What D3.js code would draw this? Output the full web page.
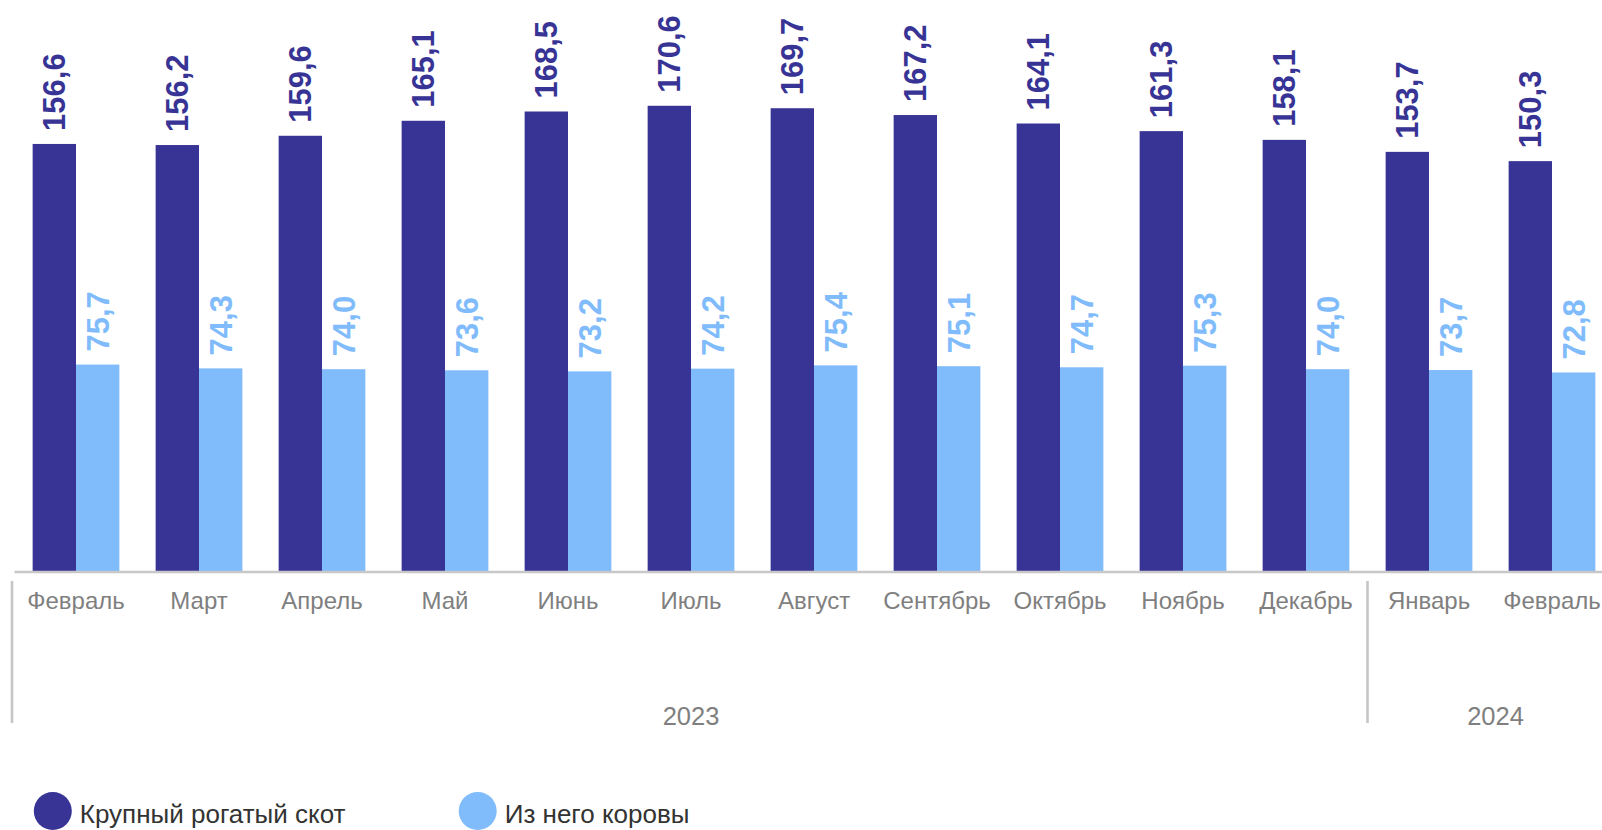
<!DOCTYPE html>
<html>
<head>
<meta charset="utf-8">
<script src="https://cdn.jsdelivr.net/npm/d3@7"></script>
<style>
  body { margin: 0; background: #fff; }
  svg { display: block; font-family: "Liberation Sans", Arial, sans-serif; }
</style>
</head>
<body>
<svg id="chart"></svg>
<script>
// data
const months = ["Февраль", "Март", "Апрель", "Май", "Июнь", "Июль", "Август",
  "Сентябрь", "Октябрь", "Ноябрь", "Декабрь", "Январь", "Февраль"];
const cattle = [156.6, 156.2, 159.6, 165.1, 168.5, 170.6, 169.7, 167.2, 164.1, 161.3, 158.1, 153.7, 150.3];
const cows = [75.7, 74.3, 74.0, 73.6, 73.2, 74.2, 75.4, 75.1, 74.7, 75.3, 74.0, 73.7, 72.8];
const seriesNames = ["Крупный рогатый скот", "Из него коровы"];
const years = [
  { label: "2023", first: 0, last: 10 },
  { label: "2024", first: 11, last: 12 }
];

const width = 1602, height = 830;
const colors = ["#373495", "#80bbfc"];
const baseY = 571;

const svg = d3.select("#chart").attr("width", width).attr("height", height);

const idx = months.map((m, i) => i);

let x = d3.scaleBand()
  .domain(idx)
  .range([14.5, 1613.5])
  .paddingInner(0.295)
  .paddingOuter(0.1475);

let xSub = d3.scaleBand()
  .domain([0, 1])
  .range([0, x.bandwidth()]);

let y = d3.scaleLinear()
  .domain([0, 200])
  .range([baseY, baseY - 545.4]);

const ru = d3.formatLocale({ decimal: ",", thousands: " ", grouping: [3], currency: ["", ""] });
const fmt = ru.format(".1f");

const series = [cattle, cows];
const gap = x.step() * x.paddingInner() / 2;

// bars + value labels
series.forEach((vals, s) => {
  svg.append("g")
    .selectAll("rect")
    .data(vals)
    .enter().append("rect")
    .attr("x", (d, i) => x(i) + xSub(s))
    .attr("y", d => y(d))
    .attr("width", xSub.bandwidth())
    .attr("height", d => y(0) - y(d))
    .attr("fill", colors[s]);

  svg.append("g")
    .selectAll("text")
    .data(vals)
    .enter().append("text")
    .attr("transform", (d, i) => "translate(" + (x(i) + xSub(s) + xSub.bandwidth() / 2) + "," + (y(d) - 13) + ") rotate(-90)")
    .attr("dy", "0.36em")
    .attr("font-size", 31)
    .attr("font-weight", "bold")
    .attr("fill", colors[s])
    .text(d => fmt(d));
});

// month axis
let axis = svg.append("g")
  .attr("transform", "translate(0," + baseY + ")")
  .call(d3.axisBottom(x).tickSize(0).tickPadding(21).tickFormat(i => months[i]));
axis.select(".domain").remove();
axis.selectAll("text")
  .attr("font-size", 24)
  .attr("font-family", "Liberation Sans, Arial, sans-serif")
  .attr("fill", "#7f7f7f");

svg.append("line")
  .attr("x1", x.range()[0]).attr("x2", width)
  .attr("y1", baseY + 1).attr("y2", baseY + 1)
  .attr("stroke", "#c8c8c8")
  .attr("stroke-width", 2.4);

// year groups
years.forEach(g => {
  let left = x(g.first) - gap;
  let right = x(g.last) + x.bandwidth() + gap;
  let lx = g.first === 0 ? left - 2.5 : left;
  svg.append("line")
    .attr("x1", lx).attr("x2", lx)
    .attr("y1", 581).attr("y2", 723)
    .attr("stroke", "#c6c6c6")
    .attr("stroke-width", 2.6);
  svg.append("text")
    .attr("x", (left + right) / 2 + (g.first === 0 ? 0 : 5))
    .attr("y", 725)
    .attr("text-anchor", "middle")
    .attr("font-size", 25.5)
    .attr("fill", "#7f7f7f")
    .text(g.label);
});

// legend
const legendX = [52.8, 477.7];
let legend = svg.append("g")
  .selectAll("g")
  .data(seriesNames)
  .enter().append("g")
  .attr("transform", (d, i) => "translate(" + legendX[i] + ",811)");
legend.append("circle")
  .attr("r", 19)
  .attr("fill", (d, i) => colors[i]);
legend.append("text")
  .attr("x", 27)
  .attr("y", 12)
  .attr("font-size", 26)
  .attr("fill", "#333333")
  .text(d => d);
</script>
</body>
</html>
